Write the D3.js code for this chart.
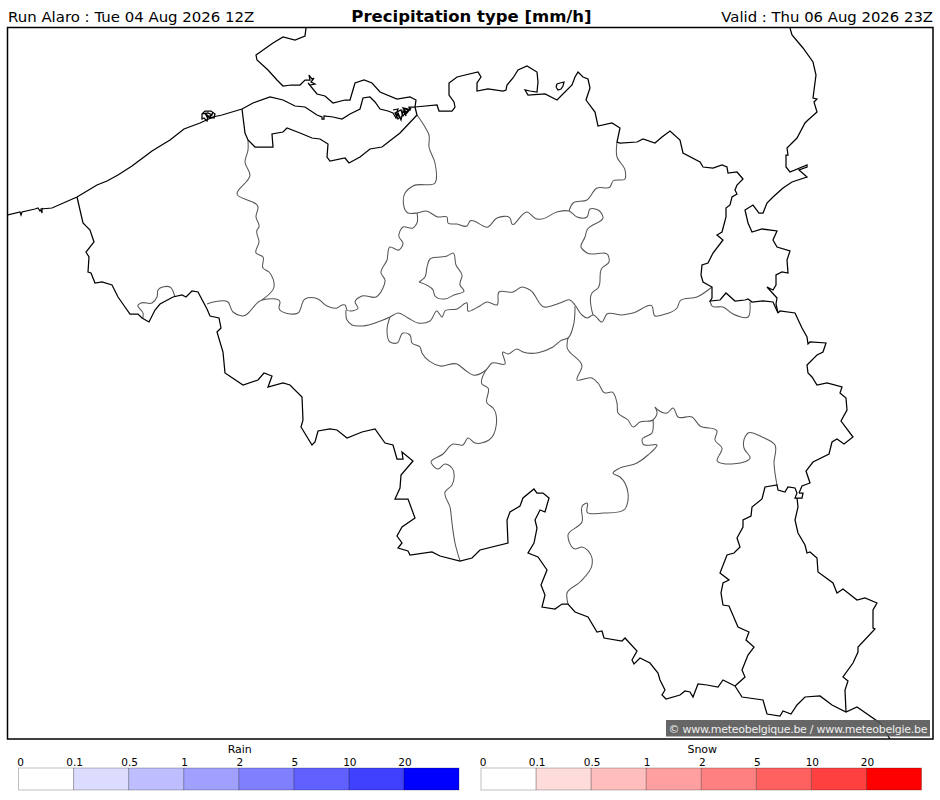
<!DOCTYPE html>
<html lang="en">
<head>
    <meta charset="UTF-8">
    <title>Precipitation type</title>
    <script src="https://cdn.jsdelivr.net/npm/d3@7"></script>
    <style>
        body { margin: 0; background: white; }
        svg { display: block; }
        text { font-family: "DejaVu Sans", sans-serif; fill: black; }
    </style>
</head>
<body>
    <script>
        // Header and legend content
        const runLabel = "Run Alaro : Tue 04 Aug 2026 12Z";
        const titleLabel = "Precipitation type [mm/h]";
        const validLabel = "Valid : Thu 06 Aug 2026 23Z";
        const creditLabel = "\u00a9 www.meteobelgique.be / www.meteobelgie.be";
        const classLabels = ["0", "0.1", "0.5", "1", "2", "5", "10", "20"];
        const rainColors = ["#ffffff", "#dcdcff", "#bebeff", "#a0a0ff", "#8080ff", "#6060ff", "#4040ff", "#0000ff"];
        const snowColors = ["#ffffff", "#ffdcdc", "#ffbebe", "#ffa0a0", "#ff8080", "#ff6060", "#ff4040", "#ff0000"];

        // Outlines in map grid units
        const coast = [[7,215],[20,212],[21,215],[22,212],[35,209],[38,208],[40,211],[42,209],[42,213],[41,209],[52,208],[77,197],[97,185],[107,181],[118,175],[132,166],[152,151],[170,140],[184,129],[200,123],[213,117],[222,115],[242,109],[253,103],[270,97],[283,100],[295,106],[305,107],[317,115],[322,117],[322,119],[324,119],[324,116],[333,117],[342,119],[350,114],[360,109],[363,98],[370,97],[375,102],[380,109],[388,111],[393,113],[396,118],[398,113],[401,120],[403,111],[406,116],[404,109],[410,110],[409,107],[415,107]];
        const oostendeHarbour = [[202,114],[205,111],[211,111],[215,114],[214,118],[208,117],[207,121],[204,118],[202,119],[202,114],[208,113],[212,115],[207,117],[205,113],[210,118],[213,112]];
        const scheldtHarbour = [[393,110],[398,109],[396,114],[400,117],[398,119],[395,113],[401,110],[403,116],[406,112],[403,108],[408,109],[406,114],[411,108]];
        const zeelandNorth = [[306,28],[305,36],[295,40],[283,37],[273,43],[256,55],[257,60],[268,70],[277,80],[283,86],[291,85],[300,85],[305,80],[310,80],[309,75],[312,79],[314,78],[311,82],[315,84],[310,85],[308,83],[317,94],[325,96],[333,103],[345,100],[350,100],[355,83],[364,80],[372,83],[380,92],[397,99],[410,97],[416,100],[415,107]];
        const zeeuwsVlaanderen = [[242,109],[243,117],[245,133],[248,140],[255,147],[273,147],[272,134],[283,132],[287,128],[300,133],[312,138],[320,139],[328,144],[327,157],[330,161],[345,158],[349,163],[360,157],[370,149],[382,147],[400,133],[417,115],[415,107]];
        const dutchBorder = [[415,107],[437,105],[439,111],[452,111],[455,107],[454,102],[449,95],[449,83],[457,77],[478,72],[481,77],[477,83],[477,91],[488,89],[503,91],[506,90],[507,85],[513,78],[518,70],[527,66],[537,72],[538,82],[537,92],[530,91],[525,90],[528,95],[545,94],[557,100],[572,85],[575,77],[578,72],[583,77],[588,79],[590,88],[586,100],[595,112],[598,126],[612,123],[620,128],[617,142],[620,143],[637,142],[643,139],[655,143],[662,137],[670,131],[680,140],[683,153],[700,162],[703,167],[713,168],[722,165],[727,167],[728,173],[737,172],[743,179],[737,185],[735,190],[737,194],[732,197],[730,205],[726,208],[726,217],[722,232],[717,235],[723,240],[713,253],[708,263],[702,265],[701,275],[703,282],[712,287],[712,298],[710,301],[720,300],[726,293],[735,301],[745,300],[748,299],[752,302],[763,301],[773,302],[778,313]];
        const baarleIsland = [[556,87],[557,84],[560,83],[564,82],[563,86],[561,89],[558,90],[556,87]];
        const limburgEast = [[790,28],[792,35],[803,48],[813,62],[816,75],[813,98],[817,99],[814,102],[817,112],[808,120],[805,123],[797,138],[787,148],[788,155],[786,155],[786,167],[790,172],[807,165],[807,167],[799,170],[807,177],[792,182],[783,188],[773,197],[767,203],[763,213],[759,213],[753,205],[745,210],[748,223],[752,232],[762,229],[777,231],[773,240],[777,247],[790,251],[787,260],[788,273],[782,272],[776,275],[776,285],[773,290],[767,287],[777,298],[776,304],[778,313]];
        const germanBorder = [[778,313],[780,311],[795,313],[802,328],[807,337],[808,344],[810,342],[826,343],[823,352],[817,355],[807,365],[808,373],[812,377],[817,385],[827,383],[842,387],[840,393],[846,398],[847,410],[841,421],[853,437],[844,444],[837,439],[832,442],[829,454],[813,462],[806,471],[810,483],[802,486],[799,493]];
        const frenchBorderWest = [[77,197],[83,223],[90,230],[94,242],[86,252],[89,257],[88,272],[91,273],[95,283],[102,282],[112,285],[118,297],[125,307],[130,314],[138,314],[142,318],[149,322],[155,310],[160,304],[173,297],[182,295],[186,297],[192,291],[198,292],[207,309],[210,316],[219,318],[221,328],[217,332],[223,352],[225,373],[243,385],[258,380],[264,373],[272,376],[268,387],[283,383],[290,385],[302,397],[303,420],[301,427],[312,445],[315,442],[318,431],[330,429],[337,430],[347,438],[362,432],[375,429],[385,443],[393,445],[397,459],[403,459],[402,452],[413,461],[401,475],[400,488],[395,499],[408,499],[415,518],[402,527],[397,536],[402,543],[398,548],[408,551],[410,555],[432,552],[440,556],[460,561],[472,558],[480,550],[508,543],[507,520],[510,512],[520,506],[523,498],[534,489],[537,493],[543,493],[549,498],[545,512],[540,510],[535,520],[537,528],[534,543],[528,553],[538,557],[547,570],[541,585],[545,595],[542,607],[555,609],[562,604],[568,604],[575,612],[588,617],[597,632],[602,631],[604,638],[622,641],[625,638],[637,651],[632,660],[634,664],[640,658],[650,663],[658,673],[660,680],[665,690],[662,695],[666,699],[680,695],[685,691],[690,692],[693,697],[698,684],[707,685],[718,687],[723,680],[735,686]];
        const luxembourgSouth = [[735,686],[742,697],[763,700],[767,714],[780,716],[783,711],[791,714],[797,705],[805,697],[820,696],[832,705],[846,712],[857,707],[880,723],[890,739]];
        const luxembourgWest = [[735,686],[745,677],[742,670],[748,655],[754,647],[746,640],[749,632],[738,627],[729,606],[723,605],[721,593],[723,583],[729,580],[720,573],[727,555],[734,553],[740,547],[737,538],[743,527],[743,520],[751,516],[752,507],[762,499],[765,487],[777,485],[778,490],[785,492],[788,487],[795,488],[797,493],[795,498],[802,498],[803,493],[799,493]];
        const luxembourgEast = [[797,498],[798,507],[795,520],[798,533],[805,545],[807,553],[810,552],[817,558],[818,572],[833,583],[837,593],[843,589],[857,600],[865,598],[877,603],[873,610],[873,628],[875,629],[858,647],[858,652],[853,663],[843,677],[848,681],[845,690],[846,712]];

        const provinceLines = [
            [[417,115],[425,127],[429,135],[429,147],[435,163],[435,183],[413,186],[405,193],[408,213],[417,213],[426,211],[438,217],[447,217],[448,223],[457,224],[467,226],[470,221],[488,227],[497,218],[510,218],[512,224],[527,212],[537,219],[542,219],[557,212],[569,211],[577,217],[587,217],[590,209],[598,210],[603,217],[587,230],[585,237],[581,247],[587,253],[608,255],[609,262],[602,268],[598,288],[592,293],[593,315]],
            [[617,142],[617,157],[625,170],[625,179],[613,181],[610,187],[597,188],[587,200],[573,203],[569,211]],
            [[417,213],[417,223],[413,228],[403,227],[399,237],[403,243],[399,250],[390,247],[387,260],[381,273],[385,280],[383,288],[376,297],[362,296],[355,302],[358,308],[347,310],[345,305],[342,305],[337,308],[327,306],[318,299],[305,299],[298,313],[279,308],[280,302],[262,300],[242,316],[233,312],[228,302],[207,304]],
            [[248,140],[248,150],[245,162],[250,175],[237,194],[258,207],[256,217],[259,227],[257,230],[259,242],[256,253],[263,257],[263,268],[269,272],[274,287],[262,300]],
            [[143,318],[143,313],[138,305],[141,303],[152,303],[157,297],[158,290],[170,287],[175,297]],
            [[346,310],[347,320],[352,325],[362,326],[383,320],[390,317],[398,313],[408,318],[418,323],[430,321],[437,311],[442,317],[445,311],[457,309],[467,303],[468,311],[478,307],[487,302],[497,305],[499,292],[513,292],[522,287],[530,290],[544,307],[560,303],[570,300],[575,305],[582,315],[587,318],[593,315],[602,322],[607,314],[622,315],[633,313],[652,306],[655,316],[662,315],[677,308],[680,301],[697,297],[712,287]],
            [[390,317],[387,330],[390,342],[397,343],[403,333],[410,335],[412,343],[420,347],[422,353],[440,366],[457,364],[465,370],[473,375],[486,370],[492,363],[505,364],[503,352],[508,354],[517,349],[523,352],[553,347],[562,340],[568,338],[573,327],[575,306]],
            [[568,338],[567,347],[582,366],[577,380],[592,378],[598,383],[605,393],[612,392],[617,403],[618,413],[628,420],[633,427],[640,422],[653,420],[657,412],[655,407]],
            [[486,370],[482,384],[488,388],[487,403],[493,408],[489,440],[475,443],[468,438],[463,445],[453,444],[443,454],[431,462],[438,469],[445,464],[452,468],[452,485],[445,492],[450,507],[452,523],[455,543],[460,561]],
            [[655,407],[658,410],[667,413],[673,408],[678,417],[692,417],[700,426],[717,431],[715,440],[722,448],[717,460],[750,457],[744,448],[745,437],[748,433],[762,437],[775,445],[774,463],[777,485]],
            [[653,420],[652,433],[642,440],[643,444],[657,445],[648,455],[637,463],[618,469],[613,473],[620,477],[628,493],[625,509],[603,513],[587,512],[587,503],[583,505],[582,522],[568,535],[575,549],[582,547],[592,558],[592,565],[580,582],[567,593],[568,604]],
            [[710,301],[712,306],[723,307],[733,314],[748,317],[750,302]],
            // Brussels ring
            [[419,282],[425,277],[427,267],[430,259],[440,257],[447,256],[453,253],[456,265],[462,275],[460,285],[464,291],[454,295],[445,299],[435,296],[433,290],[419,282]]
        ];
        const countryLines = [coast, oostendeHarbour, scheldtHarbour, zeelandNorth, zeeuwsVlaanderen, dutchBorder, baarleIsland, limburgEast, germanBorder, frenchBorderWest, luxembourgSouth, luxembourgWest, luxembourgEast];

        const width = 940;
        const height = 800;
        const svg = d3.select("body").append("svg")
            .attr("width", width)
            .attr("height", height);

        // Header
        svg.append("text").attr("x", 8).attr("y", 22).style("font-size", "14.95px").text(runLabel);
        svg.append("text").attr("x", 471.5).attr("y", 22).attr("text-anchor", "middle")
            .style("font-size", "16.5px").style("font-weight", "bold").text(titleLabel);
        svg.append("text").attr("x", 933).attr("y", 22).attr("text-anchor", "end").style("font-size", "14.85px").text(validLabel);

        // Map
        const gridX = d3.scaleLinear().domain([8, 933]).range([8, 933]);
        const gridY = d3.scaleLinear().domain([27, 739]).range([27, 739]);
        const countryPath = d3.line().x(d => gridX(d[0])).y(d => gridY(d[1]));
        const provincePath = d3.line().x(d => gridX(d[0])).y(d => gridY(d[1])).curve(d3.curveCatmullRom.alpha(1));

        svg.append("clipPath").attr("id", "frame-clip").append("rect")
            .attr("x", 8).attr("y", 28).attr("width", 925).attr("height", 711);
        const map = svg.append("g").attr("clip-path", "url(#frame-clip)");

        map.selectAll(".province").data(provinceLines).enter().append("path")
            .attr("class", "province")
            .attr("d", provincePath)
            .attr("fill", "none").attr("stroke", "#555").attr("stroke-width", 1.05);
        map.selectAll(".country").data(countryLines).enter().append("path")
            .attr("class", "country")
            .attr("d", countryPath)
            .attr("fill", "none").attr("stroke", "black").attr("stroke-width", 1.25);

        svg.append("rect").attr("x", 7.5).attr("y", 27.5).attr("width", 925.5).attr("height", 711.5)
            .attr("fill", "none").attr("stroke", "black").attr("stroke-width", 1.5);

        // Credit box
        svg.append("rect").attr("x", 666).attr("y", 720).attr("width", 264).attr("height", 16.5)
            .attr("fill", "#555").attr("opacity", 0.9);
        svg.append("text").attr("x", 668.5).attr("y", 732.5)
            .attr("textLength", 259)
            .style("font-size", "11px").style("fill", "#eee").text(creditLabel);

        // Legends
        function drawLegend(name, colors, x0, x1) {
            const band = d3.scaleBand().domain(d3.range(colors.length)).range([x0, x1]);
            const g = svg.append("g");
            g.selectAll("rect").data(colors).enter().append("rect")
                .attr("x", (d, i) => band(i))
                .attr("y", 768)
                .attr("width", band.bandwidth())
                .attr("height", 22)
                .attr("fill", d => d);
            g.selectAll("line").data(colors.slice(1)).enter().append("line")
                .attr("x1", (d, i) => band(i + 1)).attr("x2", (d, i) => band(i + 1))
                .attr("y1", 768).attr("y2", 790)
                .attr("stroke", "black").attr("stroke-opacity", 0.35).attr("stroke-width", 1);
            g.append("rect").attr("x", x0).attr("y", 768).attr("width", x1 - x0).attr("height", 22)
                .attr("fill", "none").attr("stroke", "black").attr("stroke-opacity", 0.25).attr("stroke-width", 1);
            g.selectAll("text.tick").data(classLabels).enter().append("text")
                .attr("class", "tick")
                .attr("x", (d, i) => band(i) + (i === 0 ? 2 : 1))
                .attr("y", 766)
                .attr("text-anchor", "middle")
                .style("font-size", "10.5px")
                .text(d => d);
            g.append("text").attr("x", (x0 + x1) / 2 + 1).attr("y", 753).attr("text-anchor", "middle")
                .style("font-size", "11px").text(name);
        }
        drawLegend("Rain", rainColors, 18.5, 459);
        drawLegend("Snow", snowColors, 481, 921.5);
    </script>
</body>
</html>
